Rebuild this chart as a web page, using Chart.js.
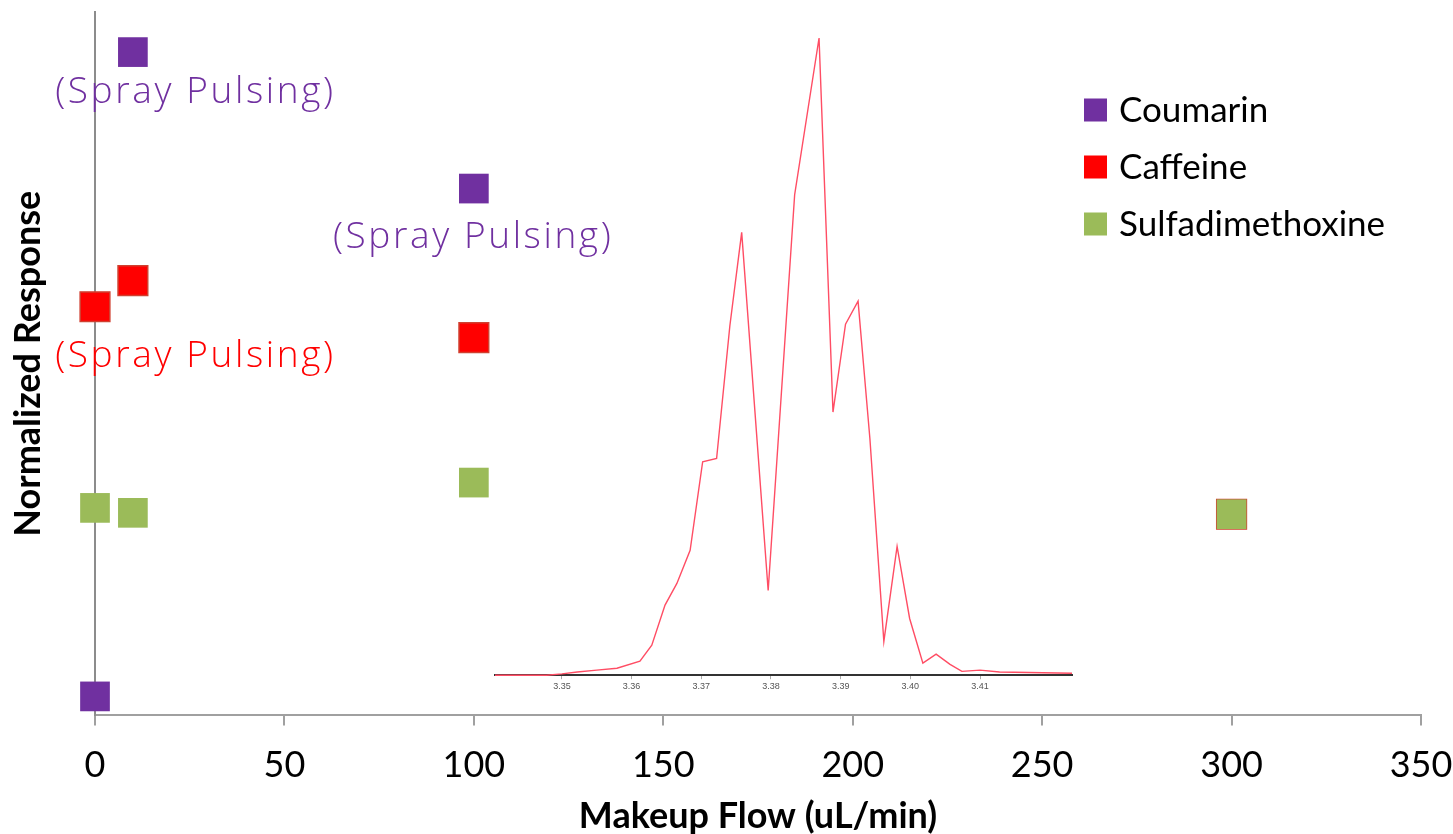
<!DOCTYPE html>
<html>
<head>
<meta charset="utf-8">
<script src="https://cdn.jsdelivr.net/npm/chart.js@4.4.1/dist/chart.umd.min.js"></script>
<style>
  html, body { margin: 0; padding: 0; background: #fff; }
  #wrap { position: relative; width: 1453px; height: 834px; }
  #main { position: absolute; left: 0; top: 0; }
  #inset { position: absolute; left: 480px; top: 20px; }
</style>
</head>
<body>
<div id="wrap">
  <canvas id="main" width="1453" height="834"></canvas>
  <canvas id="inset" width="610" height="700"></canvas>
</div>
<script>
// -----------------------------------------------------------------------------
// data
// -----------------------------------------------------------------------------

// makeup flow (uL/min) and normalized response per compound
var coumarinFlow = [0, 10, 100];
var coumarinResp = [0.027, 0.943, 0.749];
var caffeineFlow = [0, 10, 100, 300];
var caffeineResp = [0.581, 0.618, 0.537, 0.286];
var sulfaFlow    = [0, 10, 100, 300];
var sulfaResp    = [0.295, 0.288, 0.331, 0.286];
var flowTicks    = [0, 50, 100, 150, 200, 250, 300, 350];

// "(Spray Pulsing)" notes, placed in data units
var noteText   = '(Spray Pulsing)';
var noteFlow   = [26.5, 99.8, 26.5];
var noteResp   = [0.886, 0.679, 0.510];
var noteSeries = [0, 0, 1];

// inset chromatogram: retention time (min) vs intensity (%)
var rtTime = [3.3404, 3.3478, 3.3500, 3.3522, 3.3550, 3.3579, 3.3612, 3.3629,
              3.3648, 3.3665, 3.3684, 3.3702, 3.3722, 3.3741, 3.3758, 3.3796,
              3.3834, 3.3869, 3.3889, 3.3907, 3.3925, 3.3942, 3.3962, 3.3981,
              3.3999, 3.4018, 3.4037, 3.4057, 3.4074, 3.4100, 3.4128, 3.4232];
var rtIntensity = [0, 0, 0.2, 0.5, 0.8, 1.1, 2.2, 4.7,
                   11.0, 14.4, 19.6, 33.5, 34.0, 54.8, 69.5, 13.3,
                   75.4, 100, 41.3, 55.1, 58.7, 37.1, 5.3, 20.2,
                   8.9, 1.9, 3.3, 1.7, 0.6, 0.8, 0.5, 0.3];
var rtTicks = [3.35, 3.36, 3.37, 3.38, 3.39, 3.40, 3.41];

var colors = {
   coumarin: '#7030a0',
   caffeine: '#ff0000',
   sulfa:    '#9bbb59'
};

function toPoints(xs, ys) {
   return xs.map(function(x, i) { return {x: x, y: ys[i]}; });
}

// drop the label overflow padding so the plot area matches the picture
function noScalePadding(scale) {
   scale.paddingLeft = 0;
   scale.paddingRight = 0;
   scale.paddingTop = 0;
   scale.paddingBottom = 0;
}

Chart.defaults.font.family = 'Lato, "Open Sans", sans-serif';

// -----------------------------------------------------------------------------
// plugins: notes and legend
// -----------------------------------------------------------------------------

var notesPlugin = {
   id: 'notes',
   afterDatasetsDraw: function(chart) {
      var ctx = chart.ctx;
      var xs = chart.scales.x, ys = chart.scales.y;
      ctx.save();
      ctx.font = '300 37px "Open Sans", Lato, sans-serif';
      ctx.letterSpacing = '2.6px';
      ctx.textAlign = 'center';
      ctx.textBaseline = 'middle';
      for (var i = 0; i < noteFlow.length; i++) {
         ctx.fillStyle = chart.data.datasets[noteSeries[i]].backgroundColor;
         ctx.fillText(noteText, xs.getPixelForValue(noteFlow[i]), ys.getPixelForValue(noteResp[i]));
      }
      ctx.restore();
   }
};

var legendPlugin = {
   id: 'boxLegend',
   afterDraw: function(chart) {
      var ctx = chart.ctx;
      var x = 1084, y = 110, step = 57, box = 23;
      ctx.save();
      ctx.font = '35px Lato, sans-serif';
      ctx.textBaseline = 'middle';
      chart.data.datasets.forEach(function(ds, i) {
         var cy = y + i * step;
         ctx.fillStyle = ds.backgroundColor;
         ctx.fillRect(x, cy - box / 2, box, box);
         ctx.fillStyle = '#000';
         ctx.fillText(ds.label, x + 35, cy + 1);
      });
      ctx.restore();
   }
};

// -----------------------------------------------------------------------------
// main scatter chart
// -----------------------------------------------------------------------------

var squareStyle = {
   pointStyle: 'rect',
   pointRadius: 21,
   pointHoverRadius: 21,
   pointBorderWidth: 0,
   showLine: false,
   clip: false
};

new Chart(document.getElementById('main'), {
   type: 'scatter',
   data: {
      datasets: [
         Object.assign({label: 'Coumarin', data: toPoints(coumarinFlow, coumarinResp),
            backgroundColor: colors.coumarin, borderColor: colors.coumarin, order: 2}, squareStyle),
         Object.assign({label: 'Caffeine', data: toPoints(caffeineFlow, caffeineResp),
            backgroundColor: colors.caffeine, borderColor: '#d04030', order: 1}, squareStyle,
            {pointBorderWidth: 1.5}),
         Object.assign({label: 'Sulfadimethoxine', data: toPoints(sulfaFlow, sulfaResp),
            backgroundColor: colors.sulfa, borderColor: colors.sulfa, order: 0}, squareStyle)
      ]
   },
   options: {
      responsive: false,
      animation: false,
      layout: { autoPadding: false, padding: { left: 0, right: 32, top: 12, bottom: 0 } },
      plugins: {
         legend: { display: false },
         tooltip: { enabled: false }
      },
      scales: {
         x: {
            type: 'linear',
            min: 0,
            max: 350,
            afterBuildTicks: function(scale) {
               scale.ticks = flowTicks.map(function(v) { return {value: v}; });
            },
            afterFit: noScalePadding,
            ticks: { font: { size: 36, lineHeight: 1.1 }, color: '#000', padding: 20, maxRotation: 0 },
            grid: { drawOnChartArea: false, tickLength: 10, color: '#a0a0a0', lineWidth: 2 },
            border: { color: '#a0a0a0', width: 2 },
            title: {
               display: true,
               text: 'Makeup Flow (uL/min)',
               color: '#000',
               font: { size: 36, weight: 'bold', lineHeight: 1.0 },
               padding: { top: -7, bottom: 0 }
            }
         },
         y: {
            min: 0,
            max: 1,
            z: 1,
            afterFit: noScalePadding,
            ticks: { display: false },
            grid: { display: false, drawTicks: false },
            border: { color: '#8c8c8c', width: 2 },
            title: {
               display: true,
               text: 'Normalized Response',
               color: '#000',
               font: { size: 36, weight: 'bold', lineHeight: 1.1 },
               padding: { top: 8.2, bottom: 47.2 }
            }
         }
      }
   },
   plugins: [notesPlugin, legendPlugin]
});

// -----------------------------------------------------------------------------
// inset chromatogram
// -----------------------------------------------------------------------------

new Chart(document.getElementById('inset'), {
   type: 'line',
   data: {
      datasets: [{
         data: toPoints(rtTime, rtIntensity),
         borderColor: '#ff4d64',
         borderWidth: 1.4,
         pointRadius: 0,
         tension: 0,
         clip: false
      }]
   },
   options: {
      responsive: false,
      animation: false,
      layout: { autoPadding: false, padding: { left: 15, right: 18, top: 18, bottom: 26 } },
      plugins: {
         legend: { display: false },
         tooltip: { enabled: false }
      },
      scales: {
         x: {
            type: 'linear',
            min: 3.3404,
            max: 3.4232,
            afterBuildTicks: function(scale) {
               scale.ticks = rtTicks.map(function(v) { return {value: v}; });
            },
            afterFit: noScalePadding,
            ticks: {
               font: { family: 'Arial, "Liberation Sans", sans-serif', size: 9 },
               color: '#555',
               padding: 2,
               maxRotation: 0,
               autoSkip: false,
               callback: function(v) { return v.toFixed(2); }
            },
            grid: { drawOnChartArea: false, tickLength: 4, color: '#aaa' },
            border: { color: '#333', width: 2 }
         },
         y: { display: false, min: 0, max: 100 }
      }
   }
});
</script>
</body>
</html>
